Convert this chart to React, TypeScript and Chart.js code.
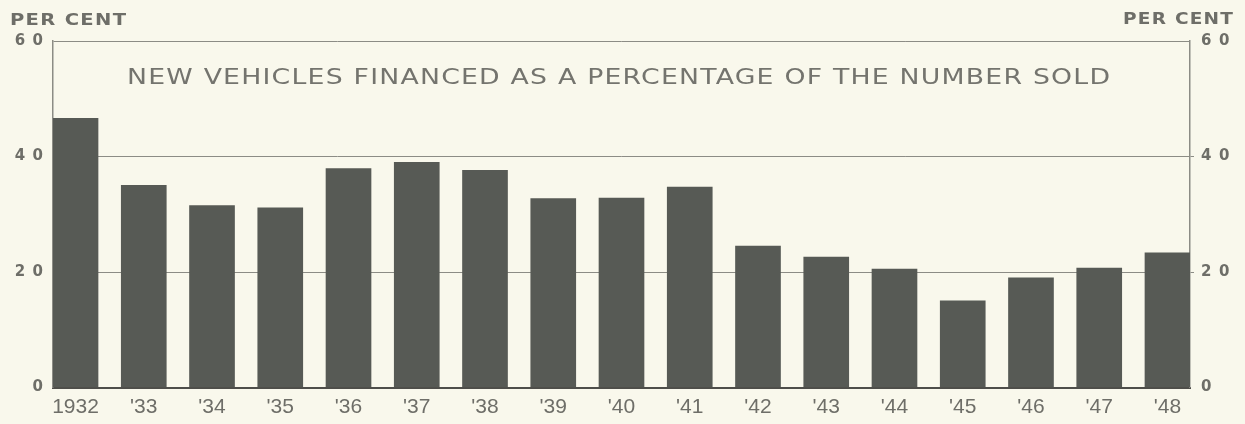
import React, { useEffect, useRef } from "react";
import { Chart, registerables } from "chart.js";

Chart.register(...registerables);

const yearLabels = ["1932", "'33", "'34", "'35", "'36", "'37", "'38", "'39", "'40", "'41", "'42", "'43", "'44", "'45", "'46", "'47", "'48"];
const financedPct = [46.6, 35.0, 31.5, 31.1, 37.9, 39.0, 37.6, 32.7, 32.8, 34.7, 24.5, 22.6, 20.5, 15.0, 19.0, 20.7, 23.3];
const yTickValues = [0, 20, 40, 60];
const yTickText: Record<number, string> = { 0: "0", 20: "2\u20020", 40: "4\u20020", 60: "6\u20020" };
const titleText = "NEW VEHICLES FINANCED AS A PERCENTAGE OF THE NUMBER SOLD";
const unitText = "PER CENT";

const BG = "#f9f8ec";
const INK = "#6e6e68";
const BAR = "#575a55";
const GRID = "#8c8c85";

function drawFit(ctx: CanvasRenderingContext2D, text: string, x: number, y: number, width: number, align: "left" | "right" | "center", spacing: number) {
  ctx.save();
  (ctx as any).letterSpacing = spacing + "px";
  const w = ctx.measureText(text).width - spacing;
  const sx = width / w;
  let x0 = x;
  if (align === "right") x0 = x - width;
  if (align === "center") x0 = x - width / 2;
  ctx.textAlign = "left";
  ctx.translate(x0, y);
  ctx.scale(sx, 1);
  ctx.fillText(text, 0, 0);
  ctx.restore();
}

const textPlugin = {
  id: "textPlugin",
  beforeDraw(chart: any) {
    const ctx = chart.ctx as CanvasRenderingContext2D;
    ctx.save();
    ctx.fillStyle = BG;
    ctx.fillRect(0, 0, chart.width, chart.height);
    ctx.restore();
  },
  afterDraw(chart: any) {
    const ctx = chart.ctx as CanvasRenderingContext2D;
    const area = chart.chartArea;
    ctx.save();
    ctx.fillStyle = "#74746e";
    ctx.textBaseline = "alphabetic";
    ctx.font = "22px 'DejaVu Sans'";
    drawFit(ctx, titleText, (area.left + area.right) / 2 - 3, 84, 983, "center", 1);
    ctx.fillStyle = INK;
    ctx.font = "bold 15px 'DejaVu Sans'";
    drawFit(ctx, unitText, 10, 25, 116, "left", 1);
    drawFit(ctx, unitText, 1233, 24, 110, "right", 1);
    ctx.restore();
  },
};

export default function App() {
  const ref = useRef<HTMLCanvasElement | null>(null);
  useEffect(() => {
    if (!ref.current) return;
    const chart = new Chart(ref.current, {
      type: "bar",
      data: {
        datasets: [
          {
            data: financedPct.map((v, i) => ({ x: i, y: v })),
            backgroundColor: BAR,
            borderWidth: 0,
            barThickness: 45,
          },
        ],
      },
      options: {
        animation: false,
        responsive: false,
        maintainAspectRatio: false,
        layout: { padding: { top: 41, left: 0, right: 0, bottom: 0 } },
        plugins: { legend: { display: false }, tooltip: { enabled: false }, title: { display: false } },
        scales: {
          x: {
            type: "linear",
            min: -0.33,
            max: 16.33,
            offset: false,
            grid: { display: false, drawTicks: false },
            border: { display: true, color: "#4e4e4a", width: 2 },
            ticks: {
              stepSize: 1,
              includeBounds: false,
              autoSkip: false,
              maxRotation: 0,
              padding: 7,
              color: INK,
              font: { family: "'Liberation Sans'", size: 21 },
              callback: (v: any) => (Number.isInteger(v) && yearLabels[v] !== undefined ? yearLabels[v] : ""),
            },
            afterFit: (s: any) => {
              s.height = 36.5;
            },
          },
          y: {
            position: "left",
            min: 0,
            max: 60,
            afterBuildTicks: (s: any) => {
              s.ticks = yTickValues.map((v) => ({ value: v }));
            },
            grid: {
              drawTicks: false,
              color: (c: any) => (c.tick && c.tick.value === 0 ? "rgba(0,0,0,0)" : GRID),
              lineWidth: 1,
            },
            border: { display: true, color: GRID, width: 1.5 },
            ticks: {
              padding: 10,
              color: INK,
              font: { family: "'DejaVu Sans'", size: 15, weight: "bold" },
              callback: (v: any) => yTickText[v] ?? "",
            },
            afterFit: (s: any) => {
              s.width = 53;
            },
          },
          y2: {
            position: "right",
            min: 0,
            max: 60,
            afterBuildTicks: (s: any) => {
              s.ticks = yTickValues.map((v) => ({ value: v }));
            },
            grid: {
              drawOnChartArea: false,
              drawTicks: true,
              tickLength: 4,
              color: (c: any) => (c.tick && (c.tick.value === 20 || c.tick.value === 40) ? GRID : "rgba(0,0,0,0)"),
            },
            border: { display: true, color: GRID, width: 1.5 },
            ticks: {
              padding: 7,
              color: INK,
              font: { family: "'DejaVu Sans'", size: 15, weight: "bold" },
              callback: (v: any) => yTickText[v] ?? "",
            },
            afterFit: (s: any) => {
              s.width = 55;
            },
          },
        },
      },
      plugins: [textPlugin],
    } as any);
    return () => chart.destroy();
  }, []);
  return (
    <div style={{ position: "fixed", left: 0, top: 0, width: 1245, height: 424, background: BG }}>
      <canvas ref={ref} width={1245} height={424} style={{ width: 1245, height: 424, display: "block" }} />
    </div>
  );
}
